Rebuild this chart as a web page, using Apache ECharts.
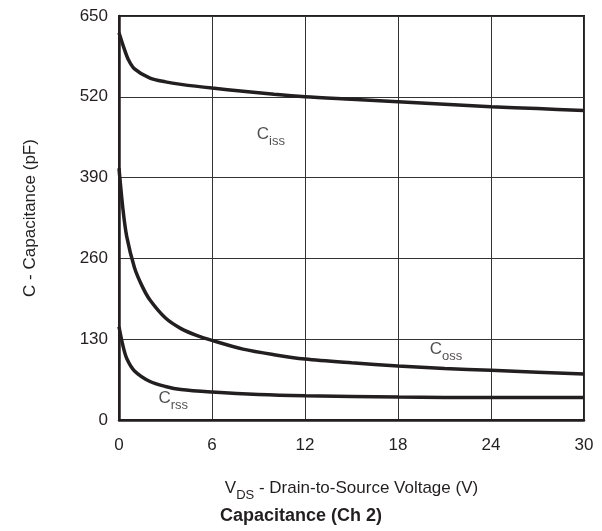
<!DOCTYPE html>
<html>
<head>
<meta charset="utf-8">
<script src="https://cdn.jsdelivr.net/npm/echarts@6/dist/echarts.min.js"></script>
<style>
html,body{margin:0;padding:0;background:#fff;}
#c{width:602px;height:531px;}
</style>
</head>
<body>
<div id="c"></div>
<script>
// Data (VDS in V, capacitance in pF)
const cissX = [0, 0.3, 0.6, 1, 2, 3, 4, 6, 8, 10, 12, 15, 18, 21, 24, 27, 30];
const cissY = [623, 600, 580, 565, 550, 544, 540, 534, 529, 524, 520, 516, 512, 508, 504, 501, 498];
const cossX = [0, 0.25, 0.5, 1, 1.5, 2, 3, 4, 5, 6, 8, 10, 12, 15, 18, 21, 24, 27, 30];
const cossY = [405, 340, 295, 245, 215, 193, 164, 147, 136, 128, 114, 105, 98, 92, 87, 83, 80, 77, 74];
const crssX = [0, 0.25, 0.5, 1, 2, 3, 4, 6, 9, 12, 18, 24, 30];
const crssY = [150, 120, 99, 79, 62, 54, 49, 45, 41, 39, 37, 36, 36];
const xTicks = [0, 6, 12, 18, 24, 30];
const yTicks = [0, 130, 260, 390, 520, 650];
// curve label anchors [x, y] in data units, with main letter and subscript
const curveLabels = [
  {pos: [9.8, 456], main: 'C', sub: 'iss'},
  {pos: [21.1, 110], main: 'C', sub: 'oss'},
  {pos: [3.5, 31], main: 'C', sub: 'rss'}
];

const ink = '#231f20';
const font = 'Liberation Sans, Arial, Helvetica, sans-serif';
const pairs = (xs, ys) => xs.map((x, i) => [x, ys[i]]);

const richSub = {
  a: {fontSize: 17, lineHeight: 22, verticalAlign: 'top', color: ink, fontFamily: font},
  b: {fontSize: 13, height: 13, lineHeight: 13, verticalAlign: 'bottom', color: ink, fontFamily: font}
};

const lineSeries = (name, xs, ys) => ({
  name: name, type: 'line', data: pairs(xs, ys), smooth: 0.3,
  showSymbol: false, symbol: 'none',
  lineStyle: {color: ink, width: 3.5}, z: 5, silent: true
});

const chart = echarts.init(document.getElementById('c'), null, {renderer: 'canvas'});
chart.setOption({
  animation: false,
  backgroundColor: '#fff',
  title: {
    text: 'Capacitance (Ch 2)', left: 'center', top: 502,
    textStyle: {fontSize: 18, fontWeight: 'bold', color: ink, fontFamily: font}
  },
  grid: {left: 119, right: 18, top: 16, bottom: 111, show: true, borderColor: ink, borderWidth: 2, containLabel: false},
  xAxis: {
    type: 'value', min: xTicks[0], max: xTicks[xTicks.length - 1], interval: xTicks[1] - xTicks[0],
    name: '{a|V}{b|DS}{a| - Drain-to-Source Voltage (V)}',
    nameLocation: 'middle', nameGap: 60,
    nameTextStyle: {rich: richSub},
    axisLine: {show: true, lineStyle: {color: ink, width: 2.5}},
    axisTick: {show: false},
    axisLabel: {fontSize: 17, color: ink, margin: 17, fontFamily: font},
    splitLine: {show: true, lineStyle: {color: '#333', width: 1}}
  },
  yAxis: {
    type: 'value', min: yTicks[0], max: yTicks[yTicks.length - 1], interval: yTicks[1] - yTicks[0],
    name: 'C - Capacitance (pF)', nameLocation: 'middle', nameGap: 80, nameRotate: 90,
    nameTextStyle: {fontSize: 17, color: ink, fontFamily: font},
    axisLine: {show: true, lineStyle: {color: ink, width: 2.5}},
    axisTick: {show: false},
    axisLabel: {fontSize: 17, color: ink, margin: 11, fontFamily: font},
    splitLine: {show: true, lineStyle: {color: '#333', width: 1}}
  },
  series: [
    lineSeries('Ciss', cissX, cissY),
    lineSeries('Coss', cossX, cossY),
    lineSeries('Crss', crssX, crssY),
    {
      type: 'scatter', silent: true, symbolSize: 0, z: 6,
      data: curveLabels.map(l => ({value: l.pos, name: l.main + l.sub,
        label: {show: true, position: 'inside', formatter: '{a|' + l.main + '}{b|' + l.sub + '}', rich: richSub}}))
    }
  ]
});
</script>
</body>
</html>
